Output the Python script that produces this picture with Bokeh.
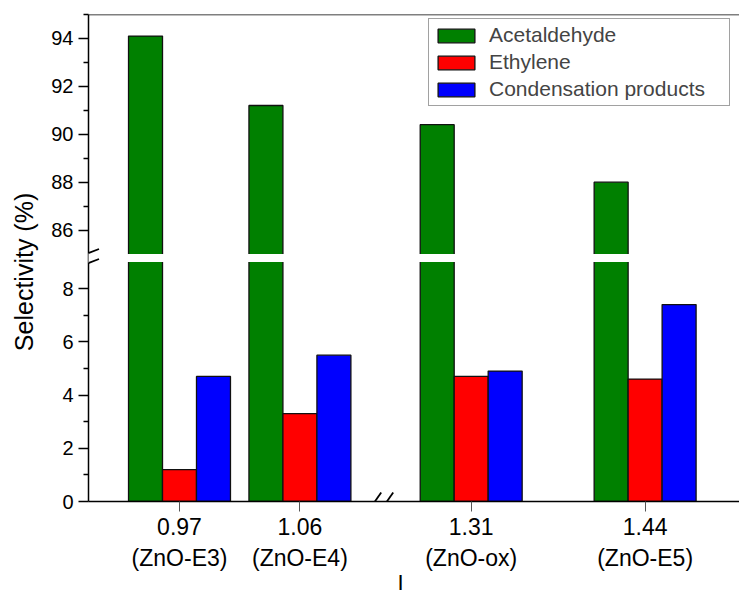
import math
from bokeh.plotting import figure
from bokeh.models import (Range1d, FixedTicker, Legend, LegendItem, Label, Arrow, Span)
from bokeh.embed import file_html
from bokeh.resources import INLINE

# ---------------- data ----------------
ratio = [0.97, 1.06, 1.31, 1.44]
samples = ["ZnO-E3", "ZnO-E4", "ZnO-ox", "ZnO-E5"]
acetaldehyde = [94.1, 91.2, 90.4, 88.0]
ethylene = [1.2, 3.3, 4.7, 4.6]
condensation = [4.7, 5.5, 4.9, 7.4]
series_names = ["Acetaldehyde", "Ethylene", "Condensation products"]
series_colors = ["#008000", "#FF0000", "#0000FF"]
y_ticks_low = [0, 2, 4, 6, 8]
y_minor_low = [1, 3, 5, 7]
y_ticks_high = [86, 88, 90, 92, 94]
y_minor_high = [87, 89, 91, 93, 95]

# ---------------- broken-axis scales ----------------
LOW_MAX, HIGH_MIN, HIGH_MAX = 9.0, 85.0, 95.0
LOW_H, GAP, HIGH_H = 240.0, 8.0, 240.0


def ymap(v):
    if v <= LOW_MAX:
        return v * LOW_H / LOW_MAX
    return LOW_H + GAP + (v - HIGH_MIN) * HIGH_H / (HIGH_MAX - HIGH_MIN)


X_SCALE = 1338.0
X0, X_PAD = 0.97, 91.0
X_BREAK, X_CUT = 1.12, 0.122
BAR_W = 0.0254


def xmap(x):
    return X_PAD + (x - X0 - (X_CUT if x > X_BREAK else 0.0)) * X_SCALE


FRAME_W, FRAME_H = 651, 488
FONT = "Liberation Sans"

p = figure(width=739, height=598, output_backend="svg", toolbar_location=None,
           x_range=Range1d(0, FRAME_W), y_range=Range1d(0, FRAME_H),
           min_border_left=88, min_border_right=0, min_border_top=14, min_border_bottom=96)
p.outline_line_color = None
p.xgrid.visible = False
p.ygrid.visible = False
p.background_fill_color = "white"

bw = BAR_W * X_SCALE
renderers = []
for k, (vals, col) in enumerate(zip([acetaldehyde, ethylene, condensation], series_colors)):
    xs = [xmap(r) + (k - 1) * bw for r in ratio]
    tops = [ymap(v) for v in vals]
    r = p.vbar(x=xs, top=tops, bottom=0, width=bw, fill_color=col,
               line_color="#111111", line_width=1.3)
    renderers.append(r)

# white gap for the y-axis break
p.quad(left=[0], right=[FRAME_W], bottom=[LOW_H], top=[LOW_H + GAP],
       fill_color="white", line_color=None)

# top frame line
p.add_layout(Span(location=ymap(HIGH_MAX), dimension="width", line_color="black", line_width=1.5))

# axes
yt = [ymap(v) for v in y_ticks_low + y_ticks_high]
ym = [ymap(v) for v in y_minor_low + y_minor_high]
p.yaxis.ticker = FixedTicker(ticks=yt, minor_ticks=ym)
p.yaxis.major_label_overrides = {ymap(v): str(v) for v in y_ticks_low + y_ticks_high}
p.yaxis.major_tick_out = 10
p.yaxis.major_tick_in = 0
p.yaxis.minor_tick_out = 5
p.yaxis.minor_tick_in = 0
p.yaxis.axis_line_width = 1.5
p.yaxis.major_tick_line_width = 1.5
p.yaxis.minor_tick_line_width = 1.5
p.yaxis.major_label_text_font = FONT
p.yaxis.major_label_text_font_size = "20px"
p.yaxis.major_label_text_color = "black"
p.yaxis.major_label_standoff = 5

p.xaxis.ticker = FixedTicker(ticks=[xmap(r) for r in ratio], minor_ticks=[])
p.xaxis.major_label_overrides = {xmap(r): f"{r:.2f}\n({s})" for r, s in zip(ratio, samples)}
p.xaxis.major_tick_out = 10
p.xaxis.major_tick_in = 0
p.xaxis.major_tick_line_color = "#555555"
p.xaxis.major_tick_line_width = 1
p.xaxis.axis_line_width = 1.5
p.xaxis.major_label_text_font = FONT
p.xaxis.major_label_text_font_size = "23px"
p.xaxis.major_label_text_color = "black"
p.xaxis.major_label_standoff = 2


def mark(x0, y0, x1, y1, color, width):
    p.add_layout(Arrow(end=None, x_start=x0, y_start=y0, x_end=x1, y_end=y1,
                       line_color=color, line_width=width))


# axis break marks
ymid = LOW_H + GAP / 2
mark(0, ymid - 5, 0, ymid + 5, "white", 3)
for dy in (-5, 5):
    mark(-10.5, ymid + dy - 4, 10.5, ymid + dy + 4, "black", 1.8)
xb = xmap(X_BREAK)
for dx in (-6, 6):
    mark(xb + dx - 7, -11, xb + dx + 7, 9, "black", 1.8)

# axis titles
p.add_layout(Label(x=-65, y=230, text="Selectivity (%)", angle=math.pi / 2,
                   text_align="center", text_baseline="middle",
                   text_font=FONT, text_font_size="25px", text_color="black"), "left")
p.add_layout(Label(x=312, y=-94, text="I", text_align="center", text_baseline="bottom",
                   text_font=FONT, text_font_size="22px", text_color="black"), "below")

legend = Legend(items=[LegendItem(label=n, renderers=[r]) for n, r in zip(series_names, renderers)],
                location=(340, 395))
legend.glyph_width = 46
legend.glyph_height = 17
legend.label_height = 17
legend.label_width = 236
legend.spacing = 3
legend.padding = 4
legend.margin = 0
legend.label_standoff = 10
legend.label_text_font = FONT
legend.label_text_font_size = "21px"
legend.border_line_color = "#444444"
legend.border_line_width = 1
legend.background_fill_alpha = 1
p.add_layout(legend, "center")

open("out.html", "w").write(file_html(p, INLINE))
